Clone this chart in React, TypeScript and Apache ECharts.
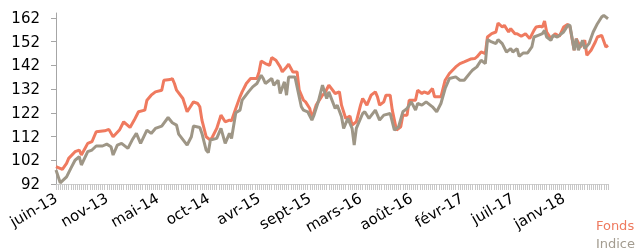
import React, { useEffect, useRef } from "react";
import * as echarts from "echarts";

// Weekly observations, June 2013 → mid 2018 (category index = week number)
const WEEK_COUNT = 262;
const LABEL_STEP = 24;
const TICK_LABELS = ["juin-13", "nov-13", "mai-14", "oct-14", "avr-15", "sept-15", "mars-16", "août-16", "févr-17", "juil-17", "janv-18"];
const Y_TICKS = [92, 102, 112, 122, 132, 142, 152, 162];

const FONDS_WEEKS = [0, 3, 5, 6, 9, 11, 12, 15, 17, 19, 23, 25, 27, 30, 32, 35, 37, 39, 42, 43, 45, 47, 50, 51, 54, 55, 56, 57, 60, 62, 63, 65, 67, 68, 69, 71, 73, 74, 76, 78, 80, 82, 83, 85, 87, 88, 90, 92, 95, 96, 97, 99, 101, 102, 104, 106, 107, 109, 110, 112, 114, 115, 117, 118, 120, 121, 123, 126, 127, 129, 132, 134, 135, 137, 139, 140, 142, 144, 145, 147, 149, 151, 152, 153, 155, 156, 158, 159, 161, 163, 164, 166, 167, 170, 171, 173, 174, 176, 178, 179, 182, 184, 186, 189, 191, 193, 196, 198, 199, 201, 203, 204, 206, 208, 209, 211, 212, 214, 215, 217, 218, 220, 222, 224, 226, 227, 229, 230, 231, 232, 234, 236, 238, 240, 242, 243, 245, 246, 248, 250, 251, 253, 255, 256, 258, 260, 261];
const FONDS_VALUES = [99.3, 98.2, 100.7, 102.8, 105.6, 106.3, 104.2, 109.1, 109.8, 114, 114.4, 115, 111.9, 114.7, 118.2, 115.8, 118.9, 122.4, 123.1, 127.3, 129.4, 130.8, 131.5, 135.7, 136, 136.4, 134.3, 131.5, 128, 122.4, 123.8, 126.6, 125.9, 124.5, 118.9, 111.9, 110.5, 111.9, 115.4, 121, 118.2, 118.9, 118.6, 123.8, 128.7, 130.8, 134.3, 136.4, 136.4, 139.2, 143.8, 142.7, 142, 145.2, 144.1, 141.3, 139.2, 141.3, 142.4, 139.2, 139.2, 131.5, 127.3, 126.6, 123.8, 119.6, 125.2, 129.4, 130.1, 133.6, 130.1, 130.8, 125.2, 119.6, 120.6, 116.8, 118.2, 125.2, 128, 125.2, 129.4, 130.8, 128.7, 125.2, 126.6, 129.4, 129.4, 123.1, 114.7, 116.1, 121, 121, 127.3, 127.3, 131.5, 130.1, 130.8, 130.1, 132.2, 128.7, 128.7, 135.7, 138.5, 141.3, 142.7, 143.4, 144.6, 144.8, 145.5, 147.6, 146.9, 153.9, 155.3, 156, 159.8, 158.1, 158.8, 156, 157.4, 155.3, 155.3, 154.2, 155.3, 153.2, 156.7, 158.1, 158.4, 158.1, 160.6, 156, 153.2, 155.3, 154.2, 158.1, 159.2, 158.1, 148.3, 153.2, 149.7, 152.5, 146.2, 148.3, 151.8, 153.9, 154.6, 149.7, 150.4];

const INDICE_WEEKS = [0, 2, 5, 7, 9, 11, 12, 15, 17, 19, 22, 24, 26, 27, 29, 31, 34, 36, 38, 40, 43, 45, 47, 50, 53, 55, 57, 58, 62, 64, 65, 68, 69, 71, 72, 73, 76, 78, 80, 82, 83, 85, 87, 88, 91, 93, 95, 97, 98, 99, 102, 103, 105, 106, 108, 109, 110, 113, 114, 116, 117, 119, 121, 122, 124, 126, 128, 129, 132, 133, 135, 136, 138, 140, 141, 142, 145, 146, 148, 151, 153, 155, 158, 160, 162, 164, 165, 166, 168, 170, 171, 173, 175, 178, 180, 182, 184, 186, 189, 191, 193, 196, 197, 199, 201, 203, 204, 206, 208, 209, 211, 213, 215, 216, 218, 219, 221, 223, 225, 226, 228, 230, 231, 232, 234, 235, 237, 238, 240, 242, 243, 245, 246, 247, 249, 250, 252, 254, 256, 258, 259, 261];
const INDICE_VALUES = [97.9, 92.5, 95, 98.6, 102, 103.5, 100, 105.6, 106.3, 108, 108, 108.8, 107.7, 104.2, 108.4, 109.1, 107, 110.5, 113.3, 109.1, 114.7, 113.3, 115.4, 116.4, 120, 117.8, 116.8, 113, 108.4, 111.9, 116.4, 115.8, 113.3, 106.3, 105.2, 110.5, 111.2, 115.4, 109.1, 113.3, 111.2, 122, 123.1, 127.3, 130.8, 132.9, 134.3, 137.8, 136.4, 134.3, 136.4, 133.6, 135.7, 130.1, 135, 129.4, 137.1, 137.1, 132.9, 124.5, 123.1, 122.4, 118.9, 121, 126.6, 133.6, 128, 130.8, 123.8, 125.2, 120.3, 115.4, 119.6, 115.4, 108.4, 115.4, 121.7, 122.4, 119.6, 123.1, 118.9, 121, 121.7, 114.7, 116.1, 122.4, 123.1, 123.8, 126.6, 123.1, 125.9, 125.2, 126.6, 124.5, 122.4, 125.9, 132.2, 136.4, 137.1, 135.7, 135.7, 139, 140, 141.3, 144.1, 142.7, 152.8, 151.8, 151.1, 152.8, 151.1, 147.6, 149, 147.6, 149, 145.8, 147.2, 147.2, 149.7, 153.9, 154.6, 155.3, 156.7, 153.9, 152.5, 154.6, 153.9, 154.6, 156, 158.8, 158.8, 148.3, 153.2, 148.3, 152.5, 149, 151.1, 156, 159.5, 162.3, 163, 161.6];

const FONDS_COLOR = "#EF7A5F";
const INDICE_COLOR = "#9E9686";
const FONT = "'DejaVu Sans', Verdana, sans-serif";

export default function App() {
  const ref = useRef<HTMLDivElement>(null);
  useEffect(() => {
    if (!ref.current) return;
    const chart = echarts.init(ref.current, null, { renderer: "svg" });
    const categories = Array.from({ length: WEEK_COUNT }, (_, i) => String(i));
    const fonds = FONDS_WEEKS.map((w, i) => [w, FONDS_VALUES[i]]);
    const indice = INDICE_WEEKS.map((w, i) => [w, INDICE_VALUES[i]]);
    chart.setOption({
      animation: false,
      grid: { left: 56, right: 28, top: 13, bottom: 67, containLabel: false },
      legend: {
        orient: "vertical",
        right: 1,
        bottom: 1,
        icon: "none",
        itemWidth: 0,
        itemHeight: 0,
        itemGap: 5,
        padding: 0,
        textStyle: { fontFamily: FONT, fontSize: 13 },
        data: [
          { name: "Fonds", textStyle: { color: FONDS_COLOR } },
          { name: "Indice", textStyle: { color: "#A39C90" } },
        ],
      },
      xAxis: {
        type: "category",
        data: categories,
        boundaryGap: false,
        axisLine: { lineStyle: { color: "#CFCFCF", width: 1 } },
        axisTick: { show: true, interval: 0, length: 6, lineStyle: { color: "#C8C8C8" } },
        axisLabel: {
          interval: LABEL_STEP - 1,
          rotate: 30,
          margin: 13,
          fontFamily: FONT,
          fontSize: 15,
          color: "#000",
          formatter: (_v: string, idx: number) => TICK_LABELS[idx / LABEL_STEP] ?? "",
        },
        splitLine: { show: false },
      },
      yAxis: {
        type: "value",
        min: 92,
        max: 164,
        interval: 10,
        axisLine: { show: true, lineStyle: { color: "#A6A6A6", width: 1 } },
        axisTick: { show: true, length: 5, lineStyle: { color: "#A6A6A6" } },
        axisLabel: {
          margin: 16,
          fontFamily: FONT,
          fontSize: 15,
          color: "#000",
          showMaxLabel: false,
          formatter: (v: number) => (Y_TICKS.includes(v) ? String(v) : ""),
        },
        splitLine: { show: false },
      },
      series: [
        {
          name: "Fonds",
          type: "line",
          data: fonds,
          symbol: "none",
          lineStyle: { color: FONDS_COLOR, width: 3 },
          itemStyle: { color: FONDS_COLOR },
        },
        {
          name: "Indice",
          type: "line",
          data: indice,
          symbol: "none",
          lineStyle: { color: INDICE_COLOR, width: 3 },
          itemStyle: { color: INDICE_COLOR },
        },
      ],
    });
    return () => chart.dispose();
  }, []);
  return <div ref={ref} style={{ position: "fixed", left: 0, top: 0, width: 636, height: 251 }} />;
}
